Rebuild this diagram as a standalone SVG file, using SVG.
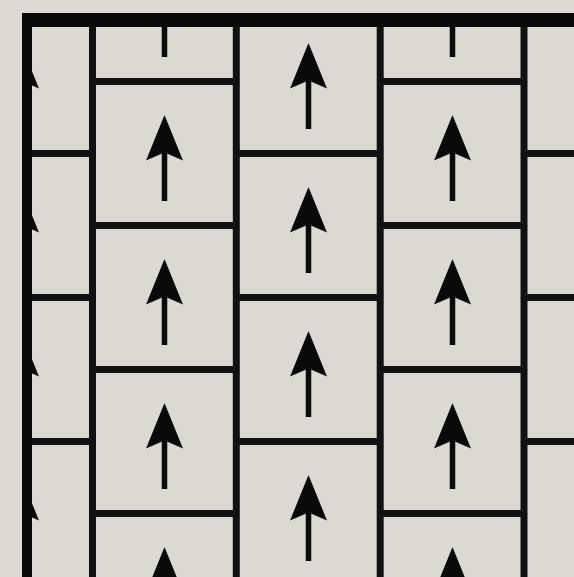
<svg xmlns="http://www.w3.org/2000/svg" xmlns:xlink="http://www.w3.org/1999/xlink" width="574" height="577" viewBox="0 0 574 577">
  <style>
    .grid line { stroke: #111; stroke-width: 7; }
    .shaft { stroke: #0a0a0a; stroke-width: 5.5; }
    .head { fill: #0a0a0a; }
    .frame { fill: #0a0a0a; }
  </style>
  <defs>
    <clipPath id="inner">
      <rect x="27" y="20" width="560" height="570"/>
    </clipPath>
    <g id="arrow">
      <line class="shaft" x1="0" y1="119.5" x2="0" y2="70"/>
      <polygon class="head" points="0,33.5 18.5,79 0,71 -18.5,79"/>
    </g>
  </defs>
  <rect x="0" y="0" width="574" height="577" fill="#dbd9d1"/>
  <g id="pattern" clip-path="url(#inner)">
    <g id="arrows">
      <use xlink:href="#arrow" href="#arrow" x="20.5" y="9.5"/>
      <use xlink:href="#arrow" href="#arrow" x="20.5" y="153.5"/>
      <use xlink:href="#arrow" href="#arrow" x="20.5" y="297.5"/>
      <use xlink:href="#arrow" href="#arrow" x="20.5" y="441.5"/>
      <use xlink:href="#arrow" href="#arrow" x="164.5" y="-62.5"/>
      <use xlink:href="#arrow" href="#arrow" x="164.5" y="81.5"/>
      <use xlink:href="#arrow" href="#arrow" x="164.5" y="225.5"/>
      <use xlink:href="#arrow" href="#arrow" x="164.5" y="369.5"/>
      <use xlink:href="#arrow" href="#arrow" x="164.5" y="513.5"/>
      <use xlink:href="#arrow" href="#arrow" x="308.5" y="9.5"/>
      <use xlink:href="#arrow" href="#arrow" x="308.5" y="153.5"/>
      <use xlink:href="#arrow" href="#arrow" x="308.5" y="297.5"/>
      <use xlink:href="#arrow" href="#arrow" x="308.5" y="441.5"/>
      <use xlink:href="#arrow" href="#arrow" x="452.5" y="-62.5"/>
      <use xlink:href="#arrow" href="#arrow" x="452.5" y="81.5"/>
      <use xlink:href="#arrow" href="#arrow" x="452.5" y="225.5"/>
      <use xlink:href="#arrow" href="#arrow" x="452.5" y="369.5"/>
      <use xlink:href="#arrow" href="#arrow" x="452.5" y="513.5"/>
    </g>
    <g id="grid" class="grid">
      <line x1="92.5" y1="0" x2="92.5" y2="577"/>
      <line x1="236.3" y1="0" x2="236.3" y2="577"/>
      <line x1="380.2" y1="0" x2="380.2" y2="577"/>
      <line x1="524" y1="0" x2="524" y2="577"/>
      <line x1="0" y1="153.5" x2="92.5" y2="153.5"/>
      <line x1="0" y1="297.5" x2="92.5" y2="297.5"/>
      <line x1="0" y1="441.5" x2="92.5" y2="441.5"/>
      <line x1="92.5" y1="81.5" x2="236.3" y2="81.5"/>
      <line x1="92.5" y1="225.5" x2="236.3" y2="225.5"/>
      <line x1="92.5" y1="369.5" x2="236.3" y2="369.5"/>
      <line x1="92.5" y1="513.5" x2="236.3" y2="513.5"/>
      <line x1="236.3" y1="153.5" x2="380.2" y2="153.5"/>
      <line x1="236.3" y1="297.5" x2="380.2" y2="297.5"/>
      <line x1="236.3" y1="441.5" x2="380.2" y2="441.5"/>
      <line x1="380.2" y1="81.5" x2="524" y2="81.5"/>
      <line x1="380.2" y1="225.5" x2="524" y2="225.5"/>
      <line x1="380.2" y1="369.5" x2="524" y2="369.5"/>
      <line x1="380.2" y1="513.5" x2="524" y2="513.5"/>
      <line x1="524" y1="153.5" x2="574" y2="153.5"/>
      <line x1="524" y1="297.5" x2="574" y2="297.5"/>
      <line x1="524" y1="441.5" x2="574" y2="441.5"/>
    </g>
  </g>
  <g id="frame">
    <rect class="frame" x="22" y="13" width="552" height="14"/>
    <rect class="frame" x="22" y="13" width="10" height="564"/>
  </g>
</svg>
